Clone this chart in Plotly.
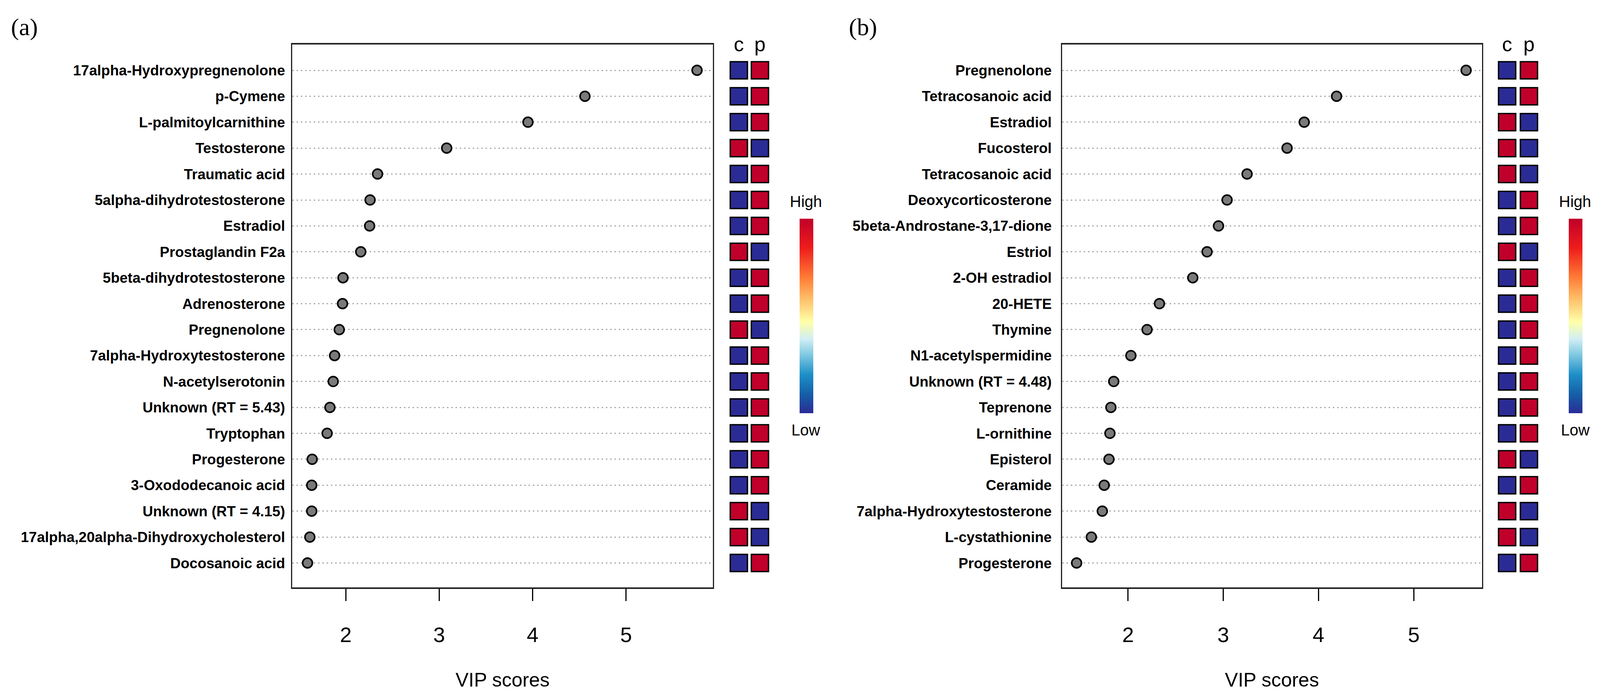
import plotly.graph_objects as go

W, H = 4363, 1777

# ---------------- data ----------------
names_a = [
    "17alpha-Hydroxypregnenolone", "p-Cymene", "L-palmitoylcarnithine", "Testosterone",
    "Traumatic acid", "5alpha-dihydrotestosterone", "Estradiol", "Prostaglandin F2a",
    "5beta-dihydrotestosterone", "Adrenosterone", "Pregnenolone", "7alpha-Hydroxytestosterone",
    "N-acetylserotonin", "Unknown (RT = 5.43)", "Tryptophan", "Progesterone",
    "3-Oxododecanoic acid", "Unknown (RT = 4.15)", "17alpha,20alpha-Dihydroxycholesterol",
    "Docosanoic acid",
]
vip_a = [5.76, 4.56, 3.95, 3.08, 2.34, 2.26, 2.255, 2.16, 1.97, 1.965,
         1.93, 1.88, 1.865, 1.83, 1.80, 1.64, 1.635, 1.635, 1.615, 1.59]
c_a = [0, 0, 0, 1, 0, 0, 0, 1, 0, 0, 1, 0, 0, 0, 0, 0, 0, 1, 1, 0]
p_a = [1, 1, 1, 0, 1, 1, 1, 0, 1, 1, 0, 1, 1, 1, 1, 1, 1, 0, 0, 1]

names_b = [
    "Pregnenolone", "Tetracosanoic acid", "Estradiol", "Fucosterol", "Tetracosanoic acid",
    "Deoxycorticosterone", "5beta-Androstane-3,17-dione", "Estriol", "2-OH estradiol",
    "20-HETE", "Thymine", "N1-acetylspermidine", "Unknown (RT = 4.48)", "Teprenone",
    "L-ornithine", "Episterol", "Ceramide", "7alpha-Hydroxytestosterone",
    "L-cystathionine", "Progesterone",
]
vip_b = [5.55, 4.19, 3.85, 3.67, 3.25, 3.04, 2.95, 2.83, 2.68, 2.33,
         2.20, 2.03, 1.85, 1.82, 1.81, 1.80, 1.75, 1.73, 1.615, 1.46]
c_b = [0, 0, 1, 1, 1, 0, 0, 1, 0, 0, 0, 0, 0, 0, 0, 1, 0, 1, 1, 0]
p_b = [1, 1, 0, 0, 0, 1, 1, 0, 1, 1, 1, 1, 1, 1, 1, 0, 1, 0, 0, 1]

groups = ["c", "p"]
x_ticks = [2, 3, 4, 5]

# ---------------- styling helpers ----------------
def fx(px):
    return px / W

def fy(py):
    return 1 - py / H

colorscale = [
    [0.00, "#2B2B95"], [0.10, "#1560A8"], [0.20, "#1E90C8"], [0.30, "#80C8E0"],
    [0.38, "#D0EEF5"], [0.47, "#FFFFA8"], [0.60, "#FDB863"], [0.70, "#FF7A35"],
    [0.85, "#EE1C1C"], [1.00, "#C0002A"],
]

FONT = "Liberation Sans, Arial, sans-serif"

ROW_TOP_PAD = 0.994
ROW_BOT = 19.94
BOX_TOP, BOX_BOT = 114, 1504
ROW_PX = (BOX_BOT - BOX_TOP) / (ROW_BOT + ROW_TOP_PAD)
HEAT_TOP = 142

panels = [
    dict(names=names_a, vip=vip_a, c=c_a, p=p_a, box=(797, 1944), xr=(1.427, 5.93),
         heat=(1986, 2101), cbx=2180, lab="(a)", labx=28, stand=8),
    dict(names=names_b, vip=vip_b, c=c_b, p=p_b, box=(2896, 4041), xr=(1.307, 5.716),
         heat=(4080, 4199), cbx=4278, lab="(b)", labx=2312, stand=16),
]

fig = go.Figure()
layout = dict(margin=dict(l=0, r=0, t=0, b=0, pad=0), autosize=True,
              paper_bgcolor="white", plot_bgcolor="white", showlegend=False,
              font=dict(family=FONT, color="black"))
annotations = []

for k, P in enumerate(panels):
    n = len(P["names"])
    rows = list(range(n))
    ia = 2 * k + 1
    ib = 2 * k + 2
    xa = "x" if ia == 1 else f"x{ia}"
    ya = "y" if ia == 1 else f"y{ia}"
    xb, yb = f"x{ib}", f"y{ib}"

    fig.add_trace(go.Scatter(
        x=P["vip"], y=rows, mode="markers", xaxis=xa, yaxis=ya,
        marker=dict(size=25, color="#7A7A7A", line=dict(color="black", width=4)),
        hoverinfo="x+text", text=P["names"],
    ))

    hx = [groups[0]] * n + [groups[1]] * n
    hy = rows + rows
    hv = P["c"] + P["p"]
    fig.add_trace(go.Scatter(
        x=hx, y=hy, mode="markers", xaxis=xb, yaxis=yb,
        marker=dict(symbol="square", size=44, color=hv, colorscale=colorscale,
                    cmin=0, cmax=1, line=dict(color="black", width=3.5),
                    showscale=True,
                    colorbar=dict(x=fx(P["cbx"]), xanchor="left", xpad=0, ypad=0,
                                  y=fy(809), yanchor="middle", len=498, lenmode="pixels",
                                  thickness=35, outlinewidth=0, ticks="",
                                  showticklabels=False)),
        hoverinfo="skip",
    ))

    x0, x1 = P["box"]
    layout["xaxis" if ia == 1 else f"xaxis{ia}"] = dict(
        domain=[fx(x0), fx(x1)], range=list(P["xr"]), anchor=ya,
        showline=True, linecolor="#222", linewidth=4, mirror=True,
        ticks="outside", ticklen=31, tickwidth=3, tickcolor="black",
        tickmode="array", tickvals=x_ticks, tickfont=dict(size=54, family=FONT),
        ticklabelstandoff=40, showgrid=False, zeroline=False, automargin=False,
        title=dict(text="VIP scores", font=dict(size=50, family=FONT), standoff=70),
    )
    layout["yaxis" if ia == 1 else f"yaxis{ia}"] = dict(
        domain=[fy(BOX_BOT), fy(BOX_TOP)], range=[ROW_BOT, -ROW_TOP_PAD], anchor=xa,
        showline=True, linecolor="#222", linewidth=3, mirror=True,
        tickmode="array", tickvals=rows, ticktext=P["names"], ticks="",
        tickfont=dict(size=37, family=FONT, weight="bold"),
        ticklabelstandoff=P["stand"],
        showgrid=True, gridcolor="#ADADAD", gridwidth=3, griddash="4px,7px",
        zeroline=False, automargin=False,
    )
    h0, h1 = P["heat"]
    heat_top_range = -ROW_TOP_PAD + (HEAT_TOP - BOX_TOP) / ROW_PX
    layout[f"xaxis{ib}"] = dict(
        domain=[fx(h0), fx(h1)], range=[-0.5, 1.5], anchor=yb, side="top",
        type="category", categoryarray=groups, tickmode="array", tickvals=groups,
        showline=False, showgrid=False,
        zeroline=False, ticks="", tickfont=dict(size=52, family=FONT),
        ticklabelstandoff=0, automargin=False,
    )
    layout[f"yaxis{ib}"] = dict(
        domain=[fy(BOX_BOT), fy(HEAT_TOP)], range=[ROW_BOT, heat_top_range], anchor=xb,
        showline=False, showgrid=False, zeroline=False, showticklabels=False,
        ticks="", automargin=False,
    )

    cbc = P["cbx"] + 17
    annotations.append(dict(text="High", x=fx(cbc), y=fy(516), xref="paper", yref="paper",
                            showarrow=False, xanchor="center", yanchor="middle",
                            font=dict(size=40, family=FONT, color="black")))
    annotations.append(dict(text="Low", x=fx(cbc), y=fy(1101), xref="paper", yref="paper",
                            showarrow=False, xanchor="center", yanchor="middle",
                            font=dict(size=40, family=FONT, color="black")))
    annotations.append(dict(text=P["lab"], x=fx(P["labx"]), y=fy(70), xref="paper",
                            yref="paper", showarrow=False, xanchor="left", yanchor="middle",
                            font=dict(size=62, family="Liberation Serif, Times New Roman, serif",
                                      color="black")))

layout["annotations"] = annotations
fig.update_layout(**layout)

post = (
    "document.documentElement.style.margin='0';"
    "document.documentElement.style.overflow='hidden';"
    "document.body.style.margin='0';"
    "document.body.style.overflow='hidden';"
    "var gd=document.getElementById('{plot_id}');"
    "gd.style.width='100vw';gd.style.height='100vh';"
    "Plotly.Plots.resize(gd);"
)
fig.write_html("out.html", default_width="100vw", default_height="100vh",
               config={"responsive": True, "displayModeBar": False}, post_script=post)
